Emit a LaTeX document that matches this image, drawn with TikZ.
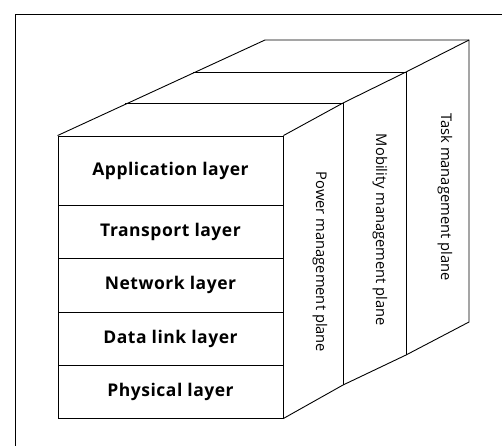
\documentclass[tikz,border=0pt]{standalone}
\usepackage{fontspec}
\setmainfont{Open Sans}
\newfontfamily\layerfont[LetterSpace=3]{Open Sans}

\begin{document}
\begin{tikzpicture}[x=1pt, y=-1pt, line width=0.9pt,
    layer_node/.style={draw, minimum width=225pt, inner sep=0pt,
        font=\layerfont\bfseries\fontsize{17.5}{20}\selectfont},
    plane_text/.style={rotate=-90, inner sep=0pt,
        font=\fontsize{14.7}{17}\selectfont}]
    \useasboundingbox (0,0) rectangle (502,445);
    \clip (0,0) rectangle (502,445);
    % frame
    \draw (15,460) -- (15,14) -- (520,14);

    % protocol layers, front face
    \node[layer_node, minimum height=69pt] (app)   at (170.5,170.5) {Application layer};
    \node[layer_node, minimum height=53pt] (trans) at (170.5,231.5) {Transport layer};
    \node[layer_node, minimum height=54pt] (net)   at (170.5,285)   {Network layer};
    \node[layer_node, minimum height=53pt] (link)  at (170.5,338.5) {Data link layer};
    \node[layer_node, minimum height=53pt] (phy)   at (170.5,391.5) {Physical layer};

    % management planes, side and top
    \coordinate (pw_tl) at (125,103);
    \coordinate (mb_tl) at (193,72);
    \coordinate (tk_tl) at (265,40);
    \coordinate (pw) at (343,103);
    \coordinate (mb) at (406,72);
    \coordinate (tk) at (469,40);
    \coordinate (pw_b) at (343,385);
    \coordinate (mb_b) at (406,355);
    \coordinate (tk_b) at (469,322);

    \draw (app.north west) -- (tk_tl) -- (tk) -- (tk_b) -- (mb_b) -- (pw_b) -- (phy.south east);
    \draw (app.north east) -- (pw) -- (mb) -- (tk);
    \draw (pw_tl) -- (pw) -- (pw_b);
    \draw (mb_tl) -- (mb) -- (mb_b);

    \node[plane_text] (power) at (320,262) {Power management plane};
    \node[plane_text] (mobility) at (380,230) {Mobility management plane};
    \node[plane_text] (task) at (445,197) {Task management plane};
\end{tikzpicture}
\end{document}
